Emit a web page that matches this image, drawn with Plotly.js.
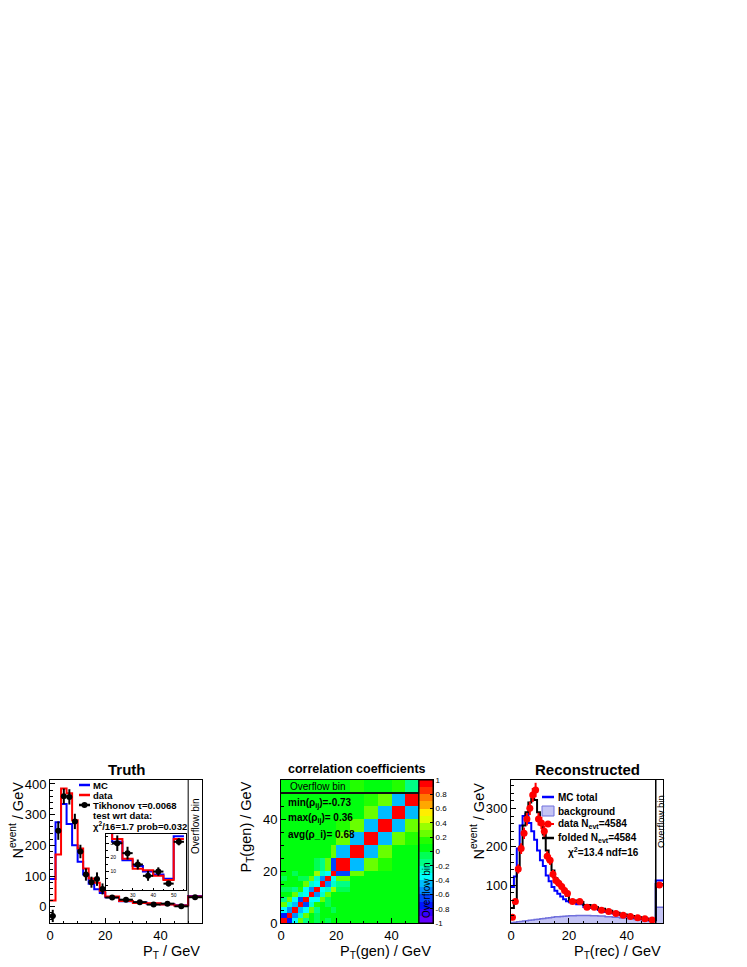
<!DOCTYPE html>
<html>
<head>
<meta charset="utf-8">
<script src="https://cdn.plot.ly/plotly-3.0.1.min.js"></script>
<style>
  html, body { margin: 0; padding: 0; background: #fff; }
  #chart { width: 747px; height: 967px; }
</style>
</head>
<body>
<div id="chart"></div>
<script>
/* ---------- data ---------- */
// generator-level binning (last bin = overflow)
var GEN_EDGES = [0, 2, 4, 6, 8, 10, 12, 14, 16, 18, 20, 25, 30, 35, 40, 45, 50, 55];
var TRUTH_MC = [90, 275, 335, 270, 200, 147, 105, 75, 57, 45, 31, 18, 14, 10, 8, 5, 35];
var TRUTH_DATA = [20, 170, 385, 370, 282, 190, 125, 92, 78, 52, 33, 19, 12, 11, 7, 4, 33];
var UNFOLDED = [-30, 248, 360, 358, 278, 180, 105, 80, 90, 58, 30, 23, 15, 7, 10, 1.5, 31];
var UNFOLDED_ERR = [20, 30, 25, 25, 25, 22, 20, 18, 22, 18, 5.5, 4.5, 3.5, 3.5, 3, 2, 2.5];

// reconstructed-level binning (last bin = overflow)
var REC_EDGES = [0, 1, 2, 3, 4, 5, 6, 7, 8, 9, 10, 11, 12, 13, 14, 15, 16, 17, 18, 19, 20,
  22.5, 25, 27.5, 30, 32.5, 35, 37.5, 40, 42.5, 45, 47.5, 50, 52.5];
var REC_MC = [95, 122, 195, 255, 280, 285, 262, 240, 218, 190, 165, 150, 125, 110, 95, 85, 77, 70, 63, 58,
  55, 50, 43, 40, 35, 30, 26, 22, 18, 15, 12, 8, 112];
var REC_BGR = [2, 3, 4, 5, 6, 7, 8, 9, 10, 11, 12, 13, 14, 15, 16, 17, 17.5, 18, 18.5, 19,
  20, 20.5, 20.5, 20, 19, 17.5, 16, 14, 12, 10, 8, 6, 42];
var REC_FOLDED = [40, 60, 140, 200, 255, 290, 315, 325, 322, 290, 262, 232, 190, 165, 138, 118, 103, 92, 82, 72,
  60, 56, 48, 43, 38, 33, 28, 23, 19, 16, 12, 9, 103];
var REC_DATA = [16, 57, 142, 195, 235, 272, 300, 335, 348, 272, 262, 240, 175, 165, 128, 112, 105, 96, 86, 78,
  57, 57, 42, 42, 34, 31, 26, 21, 18, 15, 12, 9, 100];
var REC_DATA_ERR = [4, 7.5, 12, 14, 15, 16.5, 17.3, 18.3, 18.7, 16.5, 16.2, 15.5, 13.2, 12.8, 11.3, 10.6, 10.2, 9.8, 9.3, 8.8,
  4.8, 4.8, 4.1, 4.1, 3.7, 3.5, 3.2, 2.9, 2.7, 2.4, 2.2, 1.9, 6.3];

// correlation coefficients of the unfolded result, rows = y bins (bottom first)
var RHO = [
  [1, -0.73, -0.38, 0.30, -0.10, 0.08, -0.05, 0.04, -0.02, 0.03, 0.02, 0.05, 0.03, 0.02, 0.04, 0.03, 0.06],
  [-0.73, 1, -0.60, -0.25, 0.22, 0.05, -0.05, 0.04, 0.05, 0.02, 0.04, 0.02, 0.05, 0.03, 0.02, 0.04, 0.05],
  [-0.38, -0.60, 1, -0.45, -0.32, 0.28, -0.12, 0.06, 0.03, -0.04, 0.05, 0.03, 0.02, 0.05, 0.03, 0.02, 0.07],
  [0.30, -0.25, -0.45, 1, -0.62, -0.20, 0.15, 0.08, -0.04, 0.02, 0.02, 0.06, 0.04, 0.02, 0.05, 0.03, 0.04],
  [-0.10, 0.22, -0.32, -0.62, 1, -0.38, -0.35, 0.25, -0.08, 0.05, 0.03, 0.05, 0.02, 0.04, 0.03, 0.05, 0.06],
  [0.08, 0.05, 0.28, -0.20, -0.38, 1, -0.58, -0.28, 0.20, 0.06, 0.10, 0.02, 0.06, 0.03, 0.02, 0.04, 0.05],
  [-0.05, -0.05, -0.12, 0.15, -0.35, -0.58, 1, -0.35, -0.30, 0.36, -0.05, 0.07, 0.03, 0.05, 0.02, 0.03, 0.04],
  [0.04, 0.04, 0.06, 0.08, 0.25, -0.28, -0.35, 1, -0.55, -0.22, -0.10, 0.04, 0.06, 0.02, 0.04, 0.03, 0.05],
  [-0.02, 0.05, 0.03, -0.04, -0.08, 0.20, -0.30, -0.55, 1, -0.40, 0.30, 0.00, 0.05, 0.03, 0.05, 0.02, 0.06],
  [0.03, 0.02, -0.04, 0.02, 0.05, 0.06, 0.36, -0.22, -0.40, 1, -0.66, 0.25, 0.02, 0.06, 0.03, 0.04, 0.05],
  [0.02, 0.04, 0.05, 0.02, 0.03, 0.10, -0.05, -0.10, 0.30, -0.66, 1, -0.45, 0.26, 0.12, 0.03, 0.02, 0.04],
  [0.05, 0.02, 0.03, 0.06, 0.05, 0.02, 0.07, 0.04, 0.00, 0.25, -0.45, 1, -0.44, 0.28, 0.10, 0.05, 0.12],
  [0.03, 0.05, 0.02, 0.04, 0.02, 0.06, 0.03, 0.06, 0.05, 0.02, 0.26, -0.44, 1, -0.46, 0.30, 0.12, 0.05],
  [0.02, 0.03, 0.05, 0.02, 0.04, 0.03, 0.05, 0.02, 0.03, 0.06, 0.12, 0.28, -0.46, 1, -0.45, 0.22, 0.02],
  [0.04, 0.02, 0.03, 0.05, 0.03, 0.02, 0.02, 0.04, 0.05, 0.03, 0.03, 0.10, 0.30, -0.45, 1, -0.43, 0.12],
  [0.03, 0.04, 0.02, 0.03, 0.05, 0.04, 0.03, 0.03, 0.02, 0.04, 0.02, 0.05, 0.12, 0.22, -0.43, 1, -0.15],
  [0.06, 0.05, 0.07, 0.04, 0.06, 0.05, 0.04, 0.05, 0.06, 0.05, 0.04, 0.12, 0.05, 0.02, 0.12, -0.15, 1]
];
var RHO_TICKS = [-1, -0.8, -0.6, -0.4, -0.2, 0, 0.2, 0.4, 0.6, 0.8, 1];
var RHO_TICKTEXT = ['-1', '-0.8', '-0.6', '-0.4', '-0.2', '0', '0.2', '0.4', '0.6', '0.8', '1'];

// ROOT "pretty" palette, 20 contours from -1 to 1
var PALETTE = ['#6300ff', '#3300ff', '#0014ff', '#0044ff', '#008bff', '#00bbff', '#00fffc', '#00ffcc', '#00ff85', '#00ff55',
  '#00ff0e', '#22ff00', '#69ff00', '#99ff00', '#e0ff00', '#ffee00', '#ffa700', '#ff7700', '#ff3000', '#ff0000'];

(function () {
  'use strict';
  var W = 747, H = 967;
  var FONT = 'Liberation Sans, Arial, Helvetica, sans-serif';

  /* ---------- helpers ---------- */
  function fx(p) { return p / W; }
  function fy(p) { return 1 - p / H; }
  function centers(e) { var c = [], i; for (i = 0; i < e.length - 1; i++) c.push((e[i] + e[i + 1]) / 2); return c; }
  function halfW(e) { var c = [], i; for (i = 0; i < e.length - 1; i++) c.push((e[i + 1] - e[i]) / 2); return c; }
  function step(edges, vals, color, width, xa, ya, extra) {
    var t = {
      x: edges, y: vals.concat([vals[vals.length - 1]]), mode: 'lines',
      line: { shape: 'hv', color: color, width: width },
      xaxis: xa, yaxis: ya, hoverinfo: 'skip', showlegend: false
    };
    return Object.assign(t, extra || {});
  }
  function points(edges, vals, errs, color, size, xa, ya) {
    return {
      x: centers(edges), y: vals, mode: 'markers', xaxis: xa, yaxis: ya,
      marker: { color: color, size: size, symbol: 'circle' },
      error_x: { type: 'data', array: halfW(edges), color: color, thickness: 2, width: 0 },
      error_y: { type: 'data', array: errs, color: color, thickness: 2, width: 0 },
      hoverinfo: 'skip', showlegend: false
    };
  }
  function font(s) { return { size: s, color: '#000', family: FONT }; }
  function txt(x, y, text, opt) {
    return Object.assign({
      x: fx(x), y: fy(y), xref: 'paper', yref: 'paper', text: text, showarrow: false,
      xanchor: 'left', yanchor: 'middle', font: font(10)
    }, opt || {});
  }
  function pline(x0, x1, y, color, width) {
    return { type: 'line', xref: 'paper', yref: 'paper', x0: fx(x0), x1: fx(x1), y0: fy(y), y1: fy(y), line: { color: color, width: width } };
  }
  function dot(cx, cy, r, color) {
    return { type: 'circle', xref: 'paper', yref: 'paper', x0: fx(cx - r), x1: fx(cx + r), y0: fy(cy + r), y1: fy(cy - r), fillcolor: color, line: { width: 0 } };
  }
  var AX = {
    showline: true, mirror: true, linecolor: '#000', linewidth: 1,
    ticks: 'inside', ticklen: 5, tickcolor: '#000', showgrid: false, zeroline: false,
    tickfont: font(13), fixedrange: true
  };
  function ax(o) { return Object.assign({}, AX, o); }
  function minor(d, len) { return { ticks: 'inside', ticklen: len || 2.5, dtick: d, tickcolor: '#000', showgrid: false }; }

  var YDOM = [fy(923), fy(780)];

  /* ---------- traces ---------- */
  var colorscale = [];
  PALETTE.forEach(function (c, k) { colorscale.push([k / 20, c], [(k + 1) / 20, c]); });

  var traces = [
    // Truth
    step(GEN_EDGES, TRUTH_MC, '#0000ff', 2, 'x', 'y'),
    step(GEN_EDGES, TRUTH_DATA, '#ff0000', 2, 'x', 'y'),
    points(GEN_EDGES, UNFOLDED, UNFOLDED_ERR, '#000', 6, 'x', 'y'),
    // correlation matrix
    {
      type: 'heatmap', x: GEN_EDGES, y: GEN_EDGES, z: RHO, xaxis: 'x2', yaxis: 'y2',
      zmin: -1, zmax: 1, colorscale: colorscale, hoverinfo: 'skip',
      colorbar: {
        x: fx(419), xanchor: 'left', y: fy(923), yanchor: 'bottom',
        len: 143 / H, lenmode: 'fraction', thickness: 14, thicknessmode: 'pixels',
        outlinewidth: 1, outlinecolor: '#000', xpad: 0, ypad: 0,
        tickmode: 'array', tickvals: RHO_TICKS, ticktext: RHO_TICKTEXT,
        ticks: 'inside', ticklen: 3, tickcolor: '#000', tickfont: font(8)
      }
    },
    // Reconstructed
    step(REC_EDGES, REC_BGR, '#7070dc', 1.5, 'x3', 'y3', { fill: 'tozeroy', fillcolor: '#c4c4f4' }),
    step(REC_EDGES, REC_MC, '#0000ff', 2, 'x3', 'y3'),
    step(REC_EDGES, REC_FOLDED, '#000', 2, 'x3', 'y3'),
    points(REC_EDGES, REC_DATA, REC_DATA_ERR, '#ff0000', 7, 'x3', 'y3'),
    // inset of the truth plot
    step(GEN_EDGES, TRUTH_MC, '#0000ff', 2, 'x4', 'y4'),
    step(GEN_EDGES, TRUTH_DATA, '#ff0000', 2, 'x4', 'y4'),
    points(GEN_EDGES, UNFOLDED, UNFOLDED_ERR, '#000', 6, 'x4', 'y4')
  ];

  /* ---------- layout ---------- */
  var layout = {
    width: W, height: H, margin: { l: 0, r: 0, t: 0, b: 0 },
    paper_bgcolor: '#fff', plot_bgcolor: '#fff', showlegend: false,
    font: { family: FONT, color: '#000' },
    xaxis: ax({ domain: [fx(50), fx(202)], range: [0, 55], anchor: 'y', tick0: 0, dtick: 20, minor: minor(5) }),
    yaxis: ax({ domain: YDOM, range: [-53, 413], anchor: 'x', tick0: 0, dtick: 100, minor: minor(20) }),
    xaxis2: ax({ domain: [fx(281), fx(433)], range: [0, 55], anchor: 'y2', tick0: 0, dtick: 20, minor: minor(5) }),
    yaxis2: ax({ domain: YDOM, range: [0, 55], anchor: 'x2', tick0: 0, dtick: 20, minor: minor(5) }),
    xaxis3: ax({ domain: [fx(511), fx(663)], range: [0, 52.5], anchor: 'y3', tick0: 0, dtick: 20, minor: minor(5) }),
    yaxis3: ax({ domain: YDOM, range: [1, 374], anchor: 'x3', tick0: 0, dtick: 100, minor: minor(20) }),
    xaxis4: ax({
      domain: [fx(106), fx(186)], range: [17, 56], anchor: 'y4', tickvals: [30, 40, 50], ticklen: 2.5,
      tickfont: font(5), minor: minor(5, 1.5)
    }),
    yaxis4: ax({
      domain: [fy(890), fy(834)], range: [-3, 36.5], anchor: 'x4', tickvals: [10, 20, 30], ticklen: 2.5,
      ticklabelposition: 'inside', tickfont: font(5), minor: minor(5, 1.5)
    }),
    shapes: [
      // overflow separators
      { type: 'line', xref: 'x', yref: 'y domain', x0: 50, x1: 50, y0: 0, y1: 1, line: { color: '#000', width: 1 } },
      { type: 'line', xref: 'x2', yref: 'y2 domain', x0: 50, x1: 50, y0: 0, y1: 1, line: { color: '#111', width: 2 } },
      { type: 'line', xref: 'x2 domain', yref: 'y2', x0: 0, x1: 1, y0: 50, y1: 50, line: { color: '#111', width: 2 } },
      { type: 'line', xref: 'x3', yref: 'y3 domain', x0: 50, x1: 50, y0: 0, y1: 1, line: { color: '#000', width: 1.5 } },
      // legend symbols, truth
      pline(79, 90, 785, '#0000ff', 2.5),
      pline(79, 90, 795, '#ff0000', 2.5),
      pline(79, 90, 805, '#000', 2.5),
      dot(84.5, 805, 3, '#000'),
      // legend symbols, reconstructed
      pline(542, 554, 797, '#0000ff', 2.5),
      { type: 'rect', xref: 'paper', yref: 'paper', x0: fx(542), x1: fx(554), y0: fy(816), y1: fy(806), fillcolor: '#c4c4f4', line: { color: '#7070dc', width: 1 } },
      pline(542, 554, 824, '#ff0000', 2),
      dot(548, 824, 3.5, '#ff0000'),
      pline(542, 554, 838, '#000', 2.5)
    ],
    annotations: [
      // titles
      txt(127, 769, '<b>Truth</b>', { xanchor: 'center', font: font(15) }),
      txt(357, 769, '<b>correlation coefficients</b>', { xanchor: 'center', font: font(12.5) }),
      txt(587, 769, '<b>Reconstructed</b>', { xanchor: 'center', font: font(15) }),
      // axis titles
      txt(202, 952, 'P<sub>T</sub> / GeV', { xanchor: 'right', font: font(14.5) }),
      txt(433, 952, 'P<sub>T</sub>(gen) / GeV', { xanchor: 'right', font: font(14.5) }),
      txt(663, 952, 'P<sub>T</sub>(rec) / GeV', { xanchor: 'right', font: font(14.5) }),
      txt(16, 780, 'N<sup>event</sup> / GeV', { textangle: -90, xanchor: 'center', yanchor: 'top', font: font(14.5) }),
      txt(246, 780, 'P<sub>T</sub>(gen) / GeV', { textangle: -90, xanchor: 'center', yanchor: 'top', font: font(14.5) }),
      txt(477, 780, 'N<sup>event</sup> / GeV', { textangle: -90, xanchor: 'center', yanchor: 'top', font: font(14.5) }),
      // overflow labels
      txt(195, 826, 'Overflow bin', { textangle: -90, xanchor: 'center' }),
      txt(288, 786, 'Overflow bin'),
      txt(426, 890, 'Overflow bin', { textangle: -90, xanchor: 'center' }),
      txt(660, 822, 'Overflow bin', { textangle: -90, xanchor: 'center', font: font(9.5) }),
      // legend, truth
      txt(91, 785, '<b>MC</b>', { font: font(9.5) }),
      txt(91, 795, '<b>data</b>', { font: font(9.5) }),
      txt(91, 805, '<b>Tikhonov τ=0.0068</b>', { font: font(9.5) }),
      txt(91, 815, '<b>test wrt data:</b>', { font: font(9.5) }),
      txt(91, 826, '<b>χ<sup>2</sup>/16=1.7 prob=0.032</b>', { font: font(9.5) }),
      // correlation summary
      txt(286, 803, '<b>min(ρ<sub>ij</sub>)=-0.73</b>'),
      txt(286, 818, '<b>max(ρ<sub>ij</sub>)= 0.36</b>'),
      txt(286, 834, '<b>avg(ρ_i)= 0.68</b>'),
      // legend, reconstructed
      txt(556, 797, '<b>MC total</b>'),
      txt(556, 811, '<b>background</b>'),
      txt(556, 824, '<b>data N<sub>evt</sub>=4584</b>'),
      txt(556, 838, '<b>folded N<sub>evt</sub>=4584</b>'),
      txt(566, 852, '<b>χ<sup>2</sup>=13.4 ndf=16</b>')
    ]
  };

  Plotly.newPlot('chart', traces, layout, { displayModeBar: false, staticPlot: true });
})();
</script>
</body>
</html>
